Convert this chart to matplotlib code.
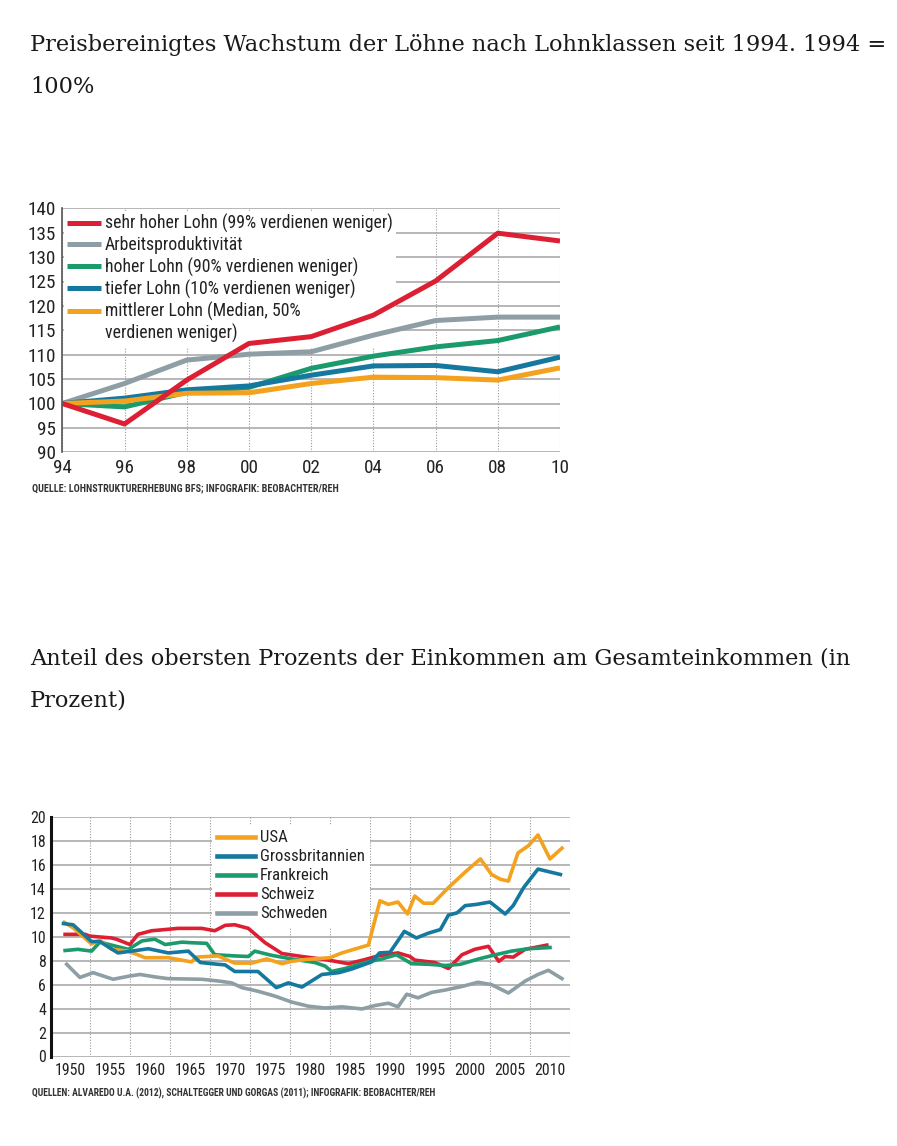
import matplotlib
matplotlib.use("Agg")
import matplotlib.pyplot as plt
import matplotlib.font_manager as fm
from matplotlib.font_manager import FontProperties
from matplotlib.lines import Line2D

# --- chart 1: wage growth by wage class, 1994 = 100 ---
years1 = [1994, 1996, 1998, 2000, 2002, 2004, 2006, 2008, 2010]
year1_labels = ["94", "96", "98", "00", "02", "04", "06", "08", "10"]
sehr_hoch = [100, 95.8, 104.8, 112.3, 113.7, 118.1, 125.1, 134.9, 133.3]
produktiv = [100, 104.1, 108.9, 110.1, 110.6, 114.0, 117.0, 117.7, 117.7]
hoch = [100, 99.3, 102.3, 103.3, 107.2, 109.7, 111.6, 112.9, 115.7]
tief = [100, 101.1, 102.8, 103.6, 105.8, 107.7, 107.8, 106.5, 109.5]
mittel = [100, 100.5, 102.1, 102.2, 104.1, 105.4, 105.3, 104.8, 107.3]
labels1 = ["sehr hoher Lohn (99% verdienen weniger)", "Arbeitsproduktivität",
           "hoher Lohn (90% verdienen weniger)", "tiefer Lohn (10% verdienen weniger)",
           "mittlerer Lohn (Median, 50%", "verdienen weniger)"]

# --- chart 2: top 1 % income share (in %) ---
usa_x = [1949.3, 1950.4, 1952.7, 1953.75, 1955.2, 1957.3, 1959.4, 1962.3, 1965.2, 1965.8,
         1968.5, 1970.6, 1972.7, 1974.6, 1976.5, 1977.7, 1979.5, 1982.5, 1984.0, 1986.5,
         1987.3, 1988.75, 1989.8, 1991.0, 1992.2, 1993.1, 1994.2, 1995.4, 1997.3, 1999.4,
         2001.3, 2002.7, 2003.8, 2004.8, 2006.0, 2007.3, 2008.5, 2010.0, 2011.5]
usa_y = [11.2, 10.75, 9.4, 9.7, 8.95, 8.8, 8.25, 8.25, 7.9, 8.3,
         8.4, 7.8, 7.8, 8.15, 7.75, 7.95, 8.1, 8.25, 8.65, 9.15,
         9.3, 13.0, 12.7, 12.9, 11.9, 13.4, 12.8, 12.8, 14.1, 15.4,
         16.5, 15.2, 14.8, 14.65, 17.0, 17.6, 18.5, 16.5, 17.4]
gb_x = [1949.2, 1950.4, 1952.7, 1953.75, 1956.0, 1957.7, 1959.8, 1962.3, 1964.8, 1966.3,
        1968.5, 1969.4, 1970.6, 1973.5, 1975.8, 1977.3, 1979.0, 1981.5, 1983.6, 1985.2,
        1987.7, 1988.7, 1990.0, 1991.8, 1993.3, 1994.8, 1996.3, 1997.3, 1998.4, 1999.4,
        2000.8, 2002.5, 2004.4, 2005.4, 2006.7, 2008.5, 2011.3]
gb_y = [11.1, 11.0, 9.6, 9.6, 8.65, 8.8, 9.0, 8.65, 8.8, 7.85,
        7.7, 7.65, 7.1, 7.1, 5.75, 6.15, 5.8, 6.85, 7.0, 7.3,
        7.9, 8.65, 8.7, 10.45, 9.9, 10.3, 10.6, 11.8, 12.0, 12.6,
        12.7, 12.9, 11.9, 12.6, 14.1, 15.65, 15.2]
fr_x = [1949.4, 1951.0, 1952.7, 1953.75, 1955.8, 1957.3, 1959.0, 1960.6, 1961.9, 1964.0,
        1965.2, 1967.1, 1968.1, 1970.6, 1972.3, 1973.1, 1975.2, 1977.7, 1980.6, 1981.9,
        1982.7, 1984.4, 1986.9, 1989.0, 1990.8, 1992.7, 1994.8, 1996.9, 1998.8, 2001.1,
        2003.2, 2005.2, 2007.3, 2010.0]
fr_y = [8.85, 8.95, 8.8, 9.55, 9.2, 8.95, 9.65, 9.8, 9.35, 9.55,
        9.5, 9.45, 8.5, 8.4, 8.35, 8.8, 8.45, 8.15, 7.85, 7.55,
        7.1, 7.35, 7.85, 8.15, 8.5, 7.75, 7.7, 7.6, 7.7, 8.15,
        8.5, 8.8, 9.0, 9.1]
ch_x = [1949.4, 1951.9, 1952.5, 1955.2, 1955.8, 1957.5, 1958.5, 1960.2, 1961.9, 1963.5,
        1965.2, 1966.5, 1968.1, 1969.4, 1970.6, 1972.3, 1974.4, 1976.5, 1979.0, 1981.9,
        1984.8, 1986.9, 1988.5, 1991.0, 1992.5, 1993.1, 1995.6, 1997.3, 1999.0, 2000.6,
        2002.3, 2003.6, 2004.4, 2005.4, 2006.9, 2009.6]
ch_y = [10.2, 10.2, 10.05, 9.9, 9.8, 9.35, 10.2, 10.5, 10.6, 10.7,
        10.7, 10.7, 10.5, 10.95, 11.0, 10.7, 9.5, 8.6, 8.35, 8.1,
        7.75, 8.1, 8.4, 8.65, 8.35, 8.05, 7.85, 7.35, 8.5, 8.95,
        9.2, 7.95, 8.35, 8.3, 8.95, 9.3]
se_x = [1949.6, 1951.25, 1952.9, 1955.4, 1957.3, 1958.75, 1960.6, 1962.3, 1966.5, 1968.6,
        1970.2, 1971.5, 1973.5, 1975.6, 1977.7, 1979.8, 1981.9, 1984.0, 1986.5, 1988.1,
        1989.8, 1991.0, 1992.1, 1993.5, 1995.2, 1996.9, 1999.0, 2001.0, 2002.7, 2004.8,
        2006.9, 2008.5, 2009.8, 2011.5]
se_y = [7.7, 6.6, 7.0, 6.45, 6.7, 6.85, 6.65, 6.5, 6.45, 6.3,
        6.15, 5.75, 5.45, 5.05, 4.55, 4.2, 4.05, 4.15, 3.97, 4.25,
        4.45, 4.15, 5.2, 4.9, 5.35, 5.55, 5.85, 6.2, 6.0, 5.3,
        6.3, 6.85, 7.2, 6.5]
years2 = [1950, 1955, 1960, 1965, 1970, 1975, 1980, 1985, 1990, 1995, 2000, 2005, 2010]
grid2 = [1952.5, 1957.5, 1962.5, 1967.5, 1972.5, 1977.5, 1982.5, 1987.5, 1992.5,
         1997.5, 2002.5, 2007.5, 2012.5]
labels2 = ["USA", "Grossbritannien", "Frankreich", "Schweiz", "Schweden"]

RED, GRAY, GREEN, BLUE, ORANGE = "#dc1f33", "#8d9fa4", "#1b9a6c", "#14789f", "#f4a11d"


def pick_narrow():
    # the infographic uses a condensed sans; take the best one installed
    ents = fm.fontManager.ttflist
    names = {f.name for f in ents}
    for nm, kk in [("Liberation Sans Narrow", 1.0), ("Roboto Condensed", 0.95),
                   ("Open Sans Condensed", 0.95)]:
        if nm in names:
            return nm, "normal", kk
    cond = {f.name for f in ents if str(f.stretch) == "condensed"}
    for nm, kk in [("DejaVu Sans", 0.9), ("Noto Sans", 0.93), ("Roboto", 0.95), ("Open Sans", 0.9)]:
        if nm in cond:
            return nm, "condensed", kk
    return "Liberation Sans", "normal", 0.86


narrow, stretch, k = pick_narrow()


def nfont(size, weight="normal"):
    return FontProperties(family=narrow, stretch=stretch, size=size * k, weight=weight)


serif = "DejaVu Serif"
TS = 16.2

fig = plt.figure(figsize=(8.97, 11.46), dpi=100)

fig.text(30 / 897, 1 - 50.7 / 1146, "Preisbereinigtes Wachstum der Löhne nach Lohnklassen seit 1994. 1994 =",
         family=serif, fontsize=TS, color="#1a1a1a", va="baseline")
fig.text(30 / 897, 1 - 92.7 / 1146, "100%", family=serif, fontsize=TS, color="#1a1a1a", va="baseline")
fig.text(30 / 897, 1 - 664 / 1146, "Anteil des obersten Prozents der Einkommen am Gesamteinkommen (in",
         family=serif, fontsize=TS, color="#1a1a1a", va="baseline")
fig.text(30 / 897, 1 - 706 / 1146, "Prozent)", family=serif, fontsize=TS, color="#1a1a1a", va="baseline")


def style_axes(ax, left_color, left_lw, fs, ypad, xpad):
    for s in ["top", "right", "bottom"]:
        ax.spines[s].set_visible(False)
    ax.spines["left"].set_color(left_color)
    ax.spines["left"].set_linewidth(left_lw)
    ax.spines["left"].set_zorder(7)
    ax.tick_params(which="both", length=0, labelcolor="#222222")
    ax.tick_params(axis="y", pad=ypad)
    ax.tick_params(axis="x", pad=xpad)
    for t in ax.get_xticklabels() + ax.get_yticklabels():
        t.set_fontproperties(nfont(fs))


# chart 1
ax1 = fig.add_axes([62.3 / 897, 1 - 452.3 / 1146, 497.7 / 897, 244 / 1146])
lw1 = 3.6
l_prod, = ax1.plot(years1, produktiv, color=GRAY, lw=lw1, solid_capstyle="butt", zorder=6)
l_hoch, = ax1.plot(years1, hoch, color=GREEN, lw=lw1, solid_capstyle="butt", zorder=6)
l_tief, = ax1.plot(years1, tief, color=BLUE, lw=lw1, solid_capstyle="butt", zorder=6)
l_mit, = ax1.plot(years1, mittel, color=ORANGE, lw=lw1, solid_capstyle="butt", zorder=6)
l_sehr, = ax1.plot(years1, sehr_hoch, color=RED, lw=lw1, solid_capstyle="butt", zorder=6)
ax1.set_xlim(1994, 2010)
ax1.set_ylim(90, 140)
ax1.set_yticks(range(90, 141, 5))
ax1.set_xticks(years1)
ax1.set_xticklabels(year1_labels)
ax1.grid(axis="y", color="#aaaaaa", lw=1.2)
ax1.grid(axis="x", color="#999999", lw=0.8, linestyle=(0, (1, 1.5)))
style_axes(ax1, "#555555", 1.2, 14.5, 4.5, 4.5)
blank = Line2D([], [], color="none")
fs1 = 13.5 * k
leg1 = ax1.legend([l_sehr, l_prod, l_hoch, l_tief, l_mit, blank], labels1,
                  loc="upper left", bbox_to_anchor=(0.003, 0.99), frameon=True,
                  facecolor="white", edgecolor="none", framealpha=1, fancybox=False,
                  borderpad=0.2, borderaxespad=0, handlelength=1.9, handletextpad=0.2,
                  labelspacing=15.25 / fs1 - 1.02, prop=nfont(13.5))
for t in leg1.get_texts():
    t.set_color("#222222")
fig.text(31.7 / 897, 1 - 488.3 / 1146, "QUELLE: LOHNSTRUKTURERHEBUNG BFS; INFOGRAFIK: BEOBACHTER/REH",
         fontproperties=nfont(7.7, "bold"), color="#333333", va="center")

# chart 2
ax2 = fig.add_axes([50.7 / 897, 1 - 1056.5 / 1146, 519.3 / 897, 239.5 / 1146])
lw2 = 2.6
h_se, = ax2.plot(se_x, se_y, color=GRAY, lw=lw2, zorder=6)
h_ch, = ax2.plot(ch_x, ch_y, color=RED, lw=lw2, zorder=6)
h_fr, = ax2.plot(fr_x, fr_y, color=GREEN, lw=lw2, zorder=6)
h_us, = ax2.plot(usa_x, usa_y, color=ORANGE, lw=lw2, zorder=6)
h_gb, = ax2.plot(gb_x, gb_y, color=BLUE, lw=lw2, zorder=6)
ax2.set_xlim(1947.6, 2012.5)
ax2.set_ylim(0, 20)
ax2.set_yticks(range(0, 21, 2))
ax2.set_xticks(years2)
ax2.set_xticks(grid2, minor=True)
ax2.grid(axis="y", color="#aaaaaa", lw=1.2)
ax2.grid(axis="x", which="minor", color="#999999", lw=0.8, linestyle=(0, (1, 1.5)))
style_axes(ax2, "#111111", 2.2, 12, 3.4, 5)
fs2 = 12.7 * k
leg2 = ax2.legend([h_us, h_gb, h_fr, h_ch, h_se], labels2,
                  loc="upper left", bbox_to_anchor=(0.31, 0.965), frameon=True,
                  facecolor="white", edgecolor="none", framealpha=1, fancybox=False,
                  borderpad=0.3, borderaxespad=0, handlelength=2.3, handletextpad=0.28,
                  labelspacing=15.2 / fs2 - 1.02, prop=nfont(12.7))
for t in leg2.get_texts():
    t.set_color("#222222")
for h in leg2.get_lines():
    h.set_linewidth(3.3)
fig.text(31.7 / 897, 1 - 1093.3 / 1146,
         "QUELLEN: ALVAREDO U.A. (2012), SCHALTEGGER UND GORGAS (2011); INFOGRAFIK: BEOBACHTER/REH",
         fontproperties=nfont(7.3, "bold"), color="#333333", va="center")

fig.savefig("out.png", dpi=100, facecolor="white")
